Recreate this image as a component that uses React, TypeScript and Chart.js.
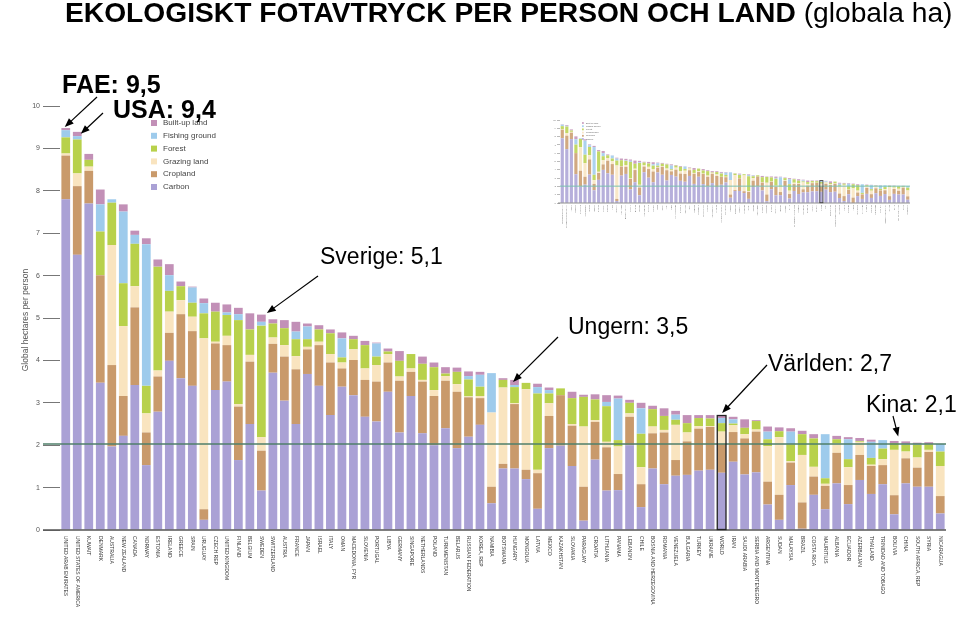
import React, { useEffect, useRef } from 'react';
import { Chart, registerables } from 'chart.js';
Chart.register(...registerables);

// ---------------- DATA ----------------
const countries = [
  'UNITED ARAB EMIRATES', 'UNITED STATES OF AMERICA', 'KUWAIT', 'DENMARK', 'AUSTRALIA', 'NEW ZEALAND',
  'CANADA', 'NORWAY', 'ESTONIA', 'IRELAND', 'GREECE', 'SPAIN', 'URUGUAY', 'CZECH REP', 'UNITED KINGDOM',
  'FINLAND', 'BELGIUM', 'SWEDEN', 'SWITZERLAND', 'AUSTRIA', 'FRANCE', 'JAPAN', 'ISRAEL', 'ITALY', 'OMAN',
  'MACEDONIA, FYR', 'SLOVENIA', 'PORTUGAL', 'LIBYA', 'GERMANY', 'SINGAPORE', 'NETHERLANDS', 'POLAND',
  'TURKMENISTAN', 'BELARUS', 'RUSSIAN FEDERATION', 'KOREA, REP', 'NAMIBIA', 'BOTSWANA', 'HUNGARY',
  'MONGOLIA', 'LATVIA', 'MEXICO', 'KAZAKHSTAN', 'SLOVAKIA', 'PARAGUAY', 'CROATIA', 'LITHUANIA', 'PANAMA',
  'LEBANON', 'CHILE', 'BOSNIA AND HERZEGOVINA', 'ROMANIA', 'VENEZUELA', 'BULGARIA', 'TURKEY', 'UKRAINE',
  'WORLD', 'IRAN', 'SAUDI ARABIA', 'SERBIA AND MONTENEGRO', 'ARGENTINA', 'SUDAN', 'MALAYSIA', 'BRAZIL',
  'COSTA RICA', 'MAURITIUS', 'ALBANIA', 'ECUADOR', 'AZERBAIJAN', 'THAILAND', 'TRINIDAD AND TOBAGO',
  'BOLIVIA', 'CHINA', 'SOUTH AFRICA, REP', 'SYRIA', 'NICARAGUA',
];

const carbon = [
  7.80, 6.49, 7.70, 3.47, 1.97, 2.22, 3.42, 1.53, 2.79, 3.99, 3.58, 3.40, 0.24, 3.30, 3.50, 1.65, 2.50, 0.93,
  3.71, 3.05, 2.50, 3.68, 3.40, 2.71, 3.38, 3.18, 2.67, 2.56, 3.26, 2.30, 3.16, 2.28, 2.00, 2.40, 1.93, 2.20,
  2.48, 0.63, 1.45, 1.45, 1.20, 0.50, 1.93, 1.99, 1.51, 0.22, 1.66, 0.93, 0.94, 2.00, 0.54, 1.45, 1.08, 1.28,
  1.30, 1.40, 1.42, 1.35, 1.61, 1.31, 1.36, 0.60, 0.24, 1.06, 0.03, 0.83, 0.49, 1.10, 0.61, 1.18, 0.85, 1.08,
  0.37, 1.10, 1.02, 1.02, 0.39,
];
const cropland = [
  1.03, 1.62, 0.77, 2.54, 1.92, 0.94, 1.83, 0.77, 0.83, 0.66, 1.51, 1.29, 0.25, 1.10, 0.86, 1.26, 1.47, 0.94,
  0.68, 1.04, 1.29, 0.58, 0.96, 1.24, 0.43, 0.83, 0.87, 0.94, 0.69, 1.22, 0.57, 1.22, 1.16, 1.12, 1.33, 0.93,
  0.63, 0.39, 0.11, 1.52, 0.22, 0.84, 0.76, 1.19, 0.95, 0.80, 0.89, 1.02, 0.38, 0.67, 0.54, 0.83, 1.22, 0.37,
  0.79, 0.99, 1.01, 0.69, 0.70, 0.85, 0.96, 0.54, 0.59, 0.53, 0.62, 0.43, 0.55, 0.72, 0.45, 0.59, 0.66, 0.45,
  0.45, 0.59, 0.45, 0.82, 0.41,
];
const grazing = [
  0.05, 0.30, 0.10, 0.00, 2.83, 1.65, 0.50, 0.45, 0.14, 0.50, 0.33, 0.34, 4.03, 0.04, 0.22, 0.06, 0.16, 0.32,
  0.15, 0.27, 0.31, 0.06, 0.08, 0.20, 0.14, 0.25, 0.27, 0.39, 0.20, 0.10, 0.08, 0.04, 0.14, 0.11, 0.18, 0.02,
  0.05, 1.75, 1.80, 0.02, 1.90, 0.08, 0.30, 0.00, 0.04, 1.42, 0.04, 0.13, 0.65, 0.08, 0.40, 0.16, 0.06, 0.83,
  0.21, 0.06, 0.02, 0.28, 0.16, 0.10, 0.05, 0.84, 1.36, 0.03, 1.12, 0.23, 0.05, 0.22, 0.42, 0.31, 0.03, 0.14,
  1.07, 0.16, 0.24, 0.05, 0.71,
];
const forest = [
  0.38, 0.80, 0.16, 1.03, 1.00, 1.01, 1.00, 0.65, 2.45, 0.49, 0.33, 0.33, 0.59, 0.71, 0.49, 1.98, 0.60, 2.63,
  0.33, 0.40, 0.40, 0.18, 0.29, 0.49, 0.12, 0.24, 0.55, 0.20, 0.06, 0.37, 0.34, 0.38, 0.54, 0.06, 0.29, 0.40,
  0.22, 0.00, 0.18, 0.38, 0.15, 1.80, 0.23, 0.16, 0.61, 0.70, 0.49, 0.84, 0.15, 0.25, 0.79, 0.41, 0.33, 0.12,
  0.22, 0.19, 0.18, 0.20, 0.04, 0.15, 0.20, 0.16, 0.14, 0.40, 0.49, 0.67, 0.13, 0.10, 0.19, 0.02, 0.16, 0.25,
  0.16, 0.16, 0.30, 0.13, 0.34,
];
const fishing = [
  0.17, 0.08, 0.00, 0.64, 0.08, 1.69, 0.21, 3.34, 0.00, 0.37, 0.00, 0.36, 0.24, 0.00, 0.06, 0.14, 0.00, 0.09,
  0.00, 0.00, 0.18, 0.30, 0.00, 0.00, 0.45, 0.00, 0.00, 0.31, 0.00, 0.00, 0.00, 0.00, 0.00, 0.00, 0.00, 0.08,
  0.28, 0.93, 0.00, 0.05, 0.00, 0.15, 0.08, 0.00, 0.00, 0.00, 0.00, 0.10, 0.98, 0.00, 0.60, 0.00, 0.00, 0.12,
  0.00, 0.00, 0.00, 0.12, 0.10, 0.00, 0.00, 0.18, 0.00, 0.30, 0.00, 0.00, 1.04, 0.00, 0.47, 0.00, 0.38, 0.20,
  0.00, 0.02, 0.02, 0.00, 0.18,
];
const builtUp = [
  0.05, 0.10, 0.14, 0.35, 0.00, 0.17, 0.10, 0.14, 0.17, 0.26, 0.11, 0.02, 0.11, 0.21, 0.19, 0.15, 0.38, 0.17,
  0.10, 0.19, 0.23, 0.07, 0.10, 0.09, 0.14, 0.08, 0.10, 0.02, 0.07, 0.23, 0.00, 0.17, 0.11, 0.15, 0.10, 0.11,
  0.07, 0.00, 0.04, 0.12, 0.00, 0.08, 0.06, 0.00, 0.15, 0.05, 0.12, 0.16, 0.07, 0.07, 0.13, 0.08, 0.18, 0.09,
  0.19, 0.07, 0.08, 0.06, 0.06, 0.20, 0.02, 0.12, 0.09, 0.08, 0.08, 0.10, 0.00, 0.08, 0.05, 0.07, 0.05, 0.00,
  0.05, 0.06, 0.03, 0.05, 0.00,
];

const seriesNames = ['Carbon', 'Cropland', 'Grazing land', 'Forest', 'Fishing ground', 'Built-up land'];
const seriesValues = [carbon, cropland, grazing, forest, fishing, builtUp];
const seriesColors = ['#aaa1d5', '#c99a6b', '#f9e4bf', '#b8d14b', '#9ecbec', '#c290b7'];

const yMin = 0;
const yMax = 10;
const yStep = 1;
const biocapacity = 2.03;
const worldLabel = 'WORLD';

const titleBold = 'EKOLOGISKT FOTAVTRYCK PER PERSON OCH LAND';
const titleNormal = ' (globala ha)';
const yAxisTitle = 'Global hectares per person';

const annotationTexts = ['FAE: 9,5', 'USA: 9,4', 'Sverige: 5,1', 'Ungern: 3,5', 'Världen: 2,7', 'Kina: 2,1'];
const annotationCountries = ['UNITED ARAB EMIRATES', 'UNITED STATES OF AMERICA', 'SWEDEN', 'HUNGARY', 'WORLD', 'CHINA'];

// ---------------- LAYOUT (positions / styles only) ----------------
const annotationLayout = [
  { tx: 62, ty: 93, bold: true, size: 25, sx: 97, sy: 97, dx: -1, dy: -1 },
  { tx: 113, ty: 118, bold: true, size: 25, sx: 103, sy: 113, dx: 3.5, dy: 2 },
  { tx: 320, ty: 264, bold: false, size: 23, sx: 318, sy: 276, dx: 5.5, dy: -1.5 },
  { tx: 568, ty: 334, bold: false, size: 23, sx: 558, sy: 337, dx: -1.5, dy: 2 },
  { tx: 768, ty: 371, bold: false, size: 23, sx: 767, sy: 365, dx: 0.5, dy: -2.5 },
  { tx: 866, ty: 412, bold: false, size: 23, sx: 893, sy: 416, dx: -7.5, dy: -5 },
];

const FONT = '"Liberation Sans", Arial, Helvetica, sans-serif';

function drawArrow(ctx: CanvasRenderingContext2D, x0: number, y0: number, x1: number, y1: number, head: number, half: number) {
  const a = Math.atan2(y1 - y0, x1 - x0);
  const c = Math.cos(a), s = Math.sin(a);
  ctx.beginPath();
  ctx.moveTo(x0, y0);
  ctx.lineTo(x1 - c * head * 0.8, y1 - s * head * 0.8);
  ctx.stroke();
  ctx.beginPath();
  ctx.moveTo(x1, y1);
  ctx.lineTo(x1 - head * c + half * s, y1 - head * s - half * c);
  ctx.lineTo(x1 - head * c - half * s, y1 - head * s + half * c);
  ctx.closePath();
  ctx.fill();
}

function barBox(chart: any, idx: number) {
  const bottom = chart.getDatasetMeta(0).data[idx] as any;
  const top = chart.getDatasetMeta(seriesValues.length - 1).data[idx] as any;
  const pb = bottom.getProps(['x', 'y', 'base', 'width'], true);
  const pt = top.getProps(['x', 'y', 'base', 'width'], true);
  return { x: pb.x, w: pb.width, top: pt.y, base: pb.base };
}

function commonPlugin(kind: 'main' | 'inset') {
  return {
    id: 'overlay_' + kind,
    afterDraw(chart: any) {
      const { ctx, chartArea } = chart;
      const x = chart.scales.x;
      const y = chart.scales.y;
      const big = kind === 'main';
      ctx.save();

      // biocapacity line
      const yb = y.getPixelForValue(biocapacity);
      ctx.strokeStyle = big ? '#4f7f6a' : '#63b7a4';
      ctx.lineWidth = big ? 1.5 : 1;
      ctx.beginPath();
      ctx.moveTo(big ? 43 : chartArea.left, yb);
      ctx.lineTo(chartArea.right, yb);
      ctx.stroke();

      // baseline
      const y0 = y.getPixelForValue(0);
      ctx.strokeStyle = '#555';
      ctx.lineWidth = big ? 1.5 : 0.8;
      ctx.beginPath();
      ctx.moveTo(big ? 43 : chartArea.left - 2, y0);
      ctx.lineTo(chartArea.right, y0);
      ctx.stroke();

      // world outline
      const wi = countries.indexOf(worldLabel);
      if (wi >= 0) {
        const b = barBox(chart, wi);
        ctx.strokeStyle = '#222';
        ctx.lineWidth = big ? 1.3 : 0.9;
        ctx.strokeRect(b.x - b.w / 2, b.top, b.w, b.base - b.top);
      }

      // x labels (rotated, reading downward)
      ctx.fillStyle = '#333';
      ctx.font = `${big ? 5 : 1.6}px ${FONT}`;
      ctx.textAlign = 'left';
      ctx.textBaseline = 'middle';
      countries.forEach((c, i) => {
        const px = x.getPixelForValue(i);
        ctx.save();
        ctx.translate(px, y0 + (big ? 6 : 2));
        ctx.rotate(Math.PI / 2);
        ctx.fillText(c, 0, 0);
        ctx.restore();
      });

      // legend
      const lx = big ? 151 : 34;
      const ly = big ? 123 : 23;
      const step = big ? 12.8 : 3.2;
      const box = big ? 6 : 1.8;
      ctx.font = `${big ? 8 : 2.2}px ${FONT}`;
      ctx.textAlign = 'left';
      ctx.textBaseline = 'middle';
      for (let k = seriesNames.length - 1, r = 0; k >= 0; k--, r++) {
        const cy = ly + r * step;
        ctx.fillStyle = seriesColors[k];
        ctx.fillRect(lx, cy - box / 2, box, box);
        ctx.fillStyle = '#444';
        ctx.fillText(seriesNames[k], lx + (big ? 12 : 4), cy);
      }

      if (big) {
        // title
        ctx.fillStyle = '#000';
        ctx.textBaseline = 'alphabetic';
        ctx.textAlign = 'left';
        ctx.font = `bold 28.2px ${FONT}`;
        ctx.fillText(titleBold, 65, 22);
        const w = ctx.measureText(titleBold).width;
        ctx.font = `28.2px ${FONT}`;
        ctx.fillText(titleNormal, 65 + w, 22);

        // y axis title
        ctx.save();
        ctx.translate(26, (chartArea.top + chartArea.bottom) / 2 + 2);
        ctx.rotate(-Math.PI / 2);
        ctx.fillStyle = '#555';
        ctx.font = `8.5px ${FONT}`;
        ctx.textAlign = 'center';
        ctx.textBaseline = 'middle';
        ctx.fillText(yAxisTitle, 0, 0);
        ctx.restore();

        // annotations
        ctx.strokeStyle = '#000';
        ctx.fillStyle = '#000';
        ctx.lineWidth = 1.2;
        annotationTexts.forEach((t, i) => {
          const L = annotationLayout[i];
          const idx = countries.indexOf(annotationCountries[i]);
          const b = barBox(chart, idx);
          drawArrow(ctx, L.sx, L.sy, b.x + L.dx, b.top + L.dy, 9, 3.5);
          ctx.font = `${L.bold ? 'bold ' : ''}${L.size}px ${FONT}`;
          ctx.textAlign = 'left';
          ctx.textBaseline = 'alphabetic';
          ctx.fillText(t, L.tx, L.ty);
        });
      }
      ctx.restore();
    },
  };
}

function buildConfig(kind: 'main' | 'inset'): any {
  const big = kind === 'main';
  return {
    type: 'bar',
    data: {
      labels: countries,
      datasets: seriesNames.map((name, k) => ({
        label: name,
        data: seriesValues[k],
        backgroundColor: seriesColors[k],
        borderWidth: 0,
        barPercentage: big ? 0.76 : 0.7,
        categoryPercentage: 1,
      })),
    },
    options: {
      responsive: false,
      animation: false,
      events: [],
      layout: {
        padding: big ? { top: 106, right: 13, left: 0, bottom: 0 } : { top: 20, right: 10, left: 0, bottom: 0 },
      },
      plugins: { legend: { display: false }, tooltip: { enabled: false }, title: { display: false } },
      scales: {
        x: {
          type: 'category',
          stacked: true,
          offset: true,
          grid: { display: false },
          border: { display: false },
          ticks: { display: false },
          afterFit: (s: any) => { s.height = big ? 87 : 27; },
        },
        y: {
          stacked: true,
          min: yMin,
          max: yMax,
          border: { display: false },
          grid: {
            drawOnChartArea: false,
            drawTicks: true,
            tickLength: big ? 17 : 3,
            color: '#777',
            lineWidth: big ? 1 : 0.6,
          },
          ticks: {
            stepSize: yStep,
            color: '#555',
            padding: big ? 3 : 1,
            font: { size: big ? 7 : 2.5, family: FONT },
          },
          afterFit: (s: any) => { s.width = big ? 60 : 12; },
        },
      },
    },
    plugins: [commonPlugin(kind)],
  };
}

function ChartCanvas({ kind, width, height, style }: { kind: 'main' | 'inset'; width: number; height: number; style: any }) {
  const ref = useRef<HTMLCanvasElement | null>(null);
  useEffect(() => {
    if (!ref.current) return;
    const chart = new Chart(ref.current, buildConfig(kind));
    return () => chart.destroy();
  }, [kind]);
  return <canvas ref={ref} width={width} height={height} style={{ width, height, display: 'block', ...style }} />;
}

export default function App() {
  Chart.defaults.font.family = FONT;
  return (
    <div style={{ position: 'fixed', left: 0, top: 0, width: 959, height: 617, background: '#fff', overflow: 'hidden' }}>
      <ChartCanvas kind="main" width={959} height={617} style={{ position: 'absolute', left: 0, top: 0 }} />
      <ChartCanvas kind="inset" width={372} height={130} style={{ position: 'absolute', left: 548, top: 100, opacity: 0.85 }} />
    </div>
  );
}
